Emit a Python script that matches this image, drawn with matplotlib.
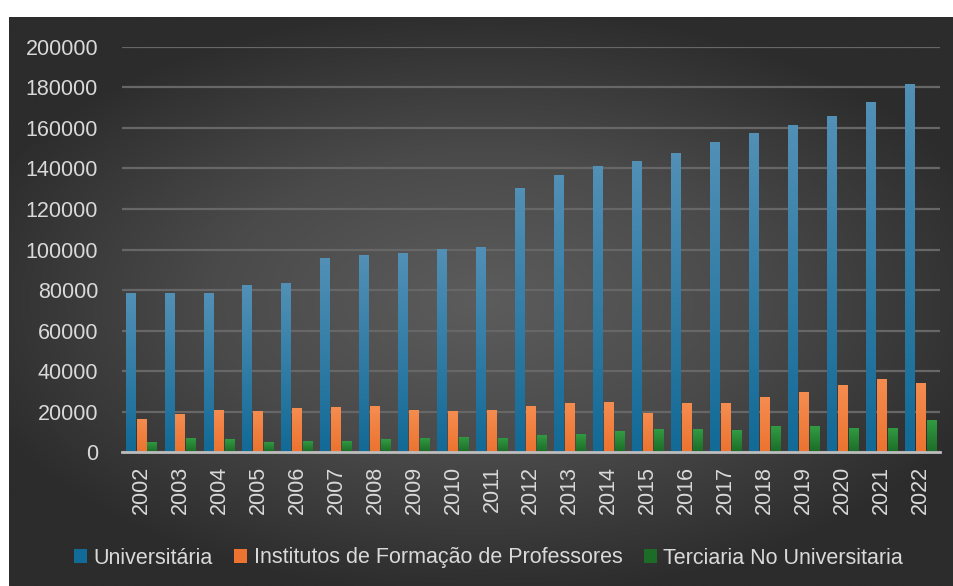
import matplotlib
matplotlib.use('Agg')
import matplotlib.pyplot as plt
import numpy as np
from matplotlib.colors import LinearSegmentedColormap
from matplotlib.patches import Patch

plt.rcParams['font.family'] = ['Liberation Sans', 'DejaVu Sans']

# dados
anos = [str(a) for a in range(2002, 2023)]
universitaria = [78400, 78400, 78400, 82300, 83500, 95600, 97400, 98100, 100100, 101100,
                 130200, 136700, 141000, 143500, 147700, 153000, 157400, 161200, 165700,
                 172700, 181500]
institutos = [16600, 19000, 21000, 20400, 21700, 22200, 22800, 21000, 20200, 21000,
              22800, 24200, 24800, 19500, 24200, 24200, 27300, 29900, 33000, 36100, 34200]
terciaria = [5200, 7000, 6400, 5200, 5700, 5700, 6400, 7000, 7700, 7000,
             8400, 9000, 10300, 11500, 11500, 10800, 12800, 12800, 12100, 12100, 15900]
series_nomes = ['Universitária', 'Institutos de Formação de Professores',
                'Terciaria No Universitaria']

# cores (topo, base)
cores = [('#5290b6', '#126a96'), ('#f58d50', '#ec7330'), ('#329c42', '#1c6c28')]
texto_cor = '#d9d9d9'

fig = plt.figure(figsize=(9.54, 5.86), dpi=100)
fig.patch.set_facecolor('white')

# fundo com gradiente radial
bg = fig.add_axes([9 / 954, 0, 945 / 954, 569 / 586])
bg.set_axis_off()
yy, xx = np.mgrid[-1:1:300j, -1:1:500j]
r = np.sqrt((xx / 1.15) ** 2 + (yy / 1.05) ** 2)
r = np.clip(r, 0, 1)
cmap_bg = LinearSegmentedColormap.from_list('bg', ['#5c5c5c', '#4a4a4a', '#2c2c2c'])
bg.imshow(r, cmap=cmap_bg, aspect='auto', extent=[0, 1, 0, 1], interpolation='bilinear')
bg.set_xlim(0, 1)
bg.set_ylim(0, 1)

ax = fig.add_axes([121.7 / 954, 1 - 452.3 / 586, (940 - 121.7) / 954, (452.3 - 46.7) / 586])
ax.patch.set_alpha(0)

x = np.arange(len(anos))
largura = 0.24
offsets = [-0.28, 0.0, 0.28]
dados = [universitaria, institutos, terciaria]

for vals, off, (c_top, c_bot) in zip(dados, offsets, cores):
    barras = ax.bar(x + off, vals, width=largura, color=c_bot, zorder=3, linewidth=0)
    cmap_b = LinearSegmentedColormap.from_list('b', [c_bot, c_top])
    for b in barras:
        x0, y0 = b.get_x(), b.get_y()
        w, h = b.get_width(), b.get_height()
        grad = np.linspace(0, 1, 64).reshape(-1, 1)
        im = ax.imshow(grad, cmap=cmap_b, aspect='auto', origin='lower',
                       extent=[x0, x0 + w, y0, y0 + h], zorder=3.5, interpolation='bilinear')
        im.set_clip_path(b)

ax.set_xlim(-0.5, len(anos) - 0.5)
ax.set_ylim(0, 200000)
ax.set_yticks(np.arange(0, 200001, 20000))
ax.set_yticklabels([str(v) for v in range(0, 200001, 20000)])
ax.set_xticks(x)
ax.set_xticklabels(anos, rotation=90)

ax.grid(axis='y', color='#676767', linewidth=1.6, zorder=0)
ax.set_axisbelow(True)
for s in ['top', 'right', 'left']:
    ax.spines[s].set_visible(False)
ax.spines['bottom'].set_color('#bdbdbd')
ax.spines['bottom'].set_linewidth(2)
ax.spines['bottom'].set_zorder(4)
ax.tick_params(axis='y', length=0, pad=17, labelsize=15.5, labelcolor=texto_cor)
ax.tick_params(axis='x', length=0, pad=10, labelsize=15.5, labelcolor=texto_cor)

handles = [Patch(facecolor=c[1], edgecolor='none', label=n) for c, n in zip(cores, series_nomes)]
leg = fig.legend(handles=handles, loc='center', bbox_to_anchor=(0.512, 1 - 558 / 586),
                 ncol=3, frameon=False, fontsize=15.5, handlelength=0.6, handleheight=0.6,
                 handletextpad=0.3, columnspacing=1.0, labelcolor=texto_cor)

fig.savefig('out.png', dpi=100, facecolor='white')
